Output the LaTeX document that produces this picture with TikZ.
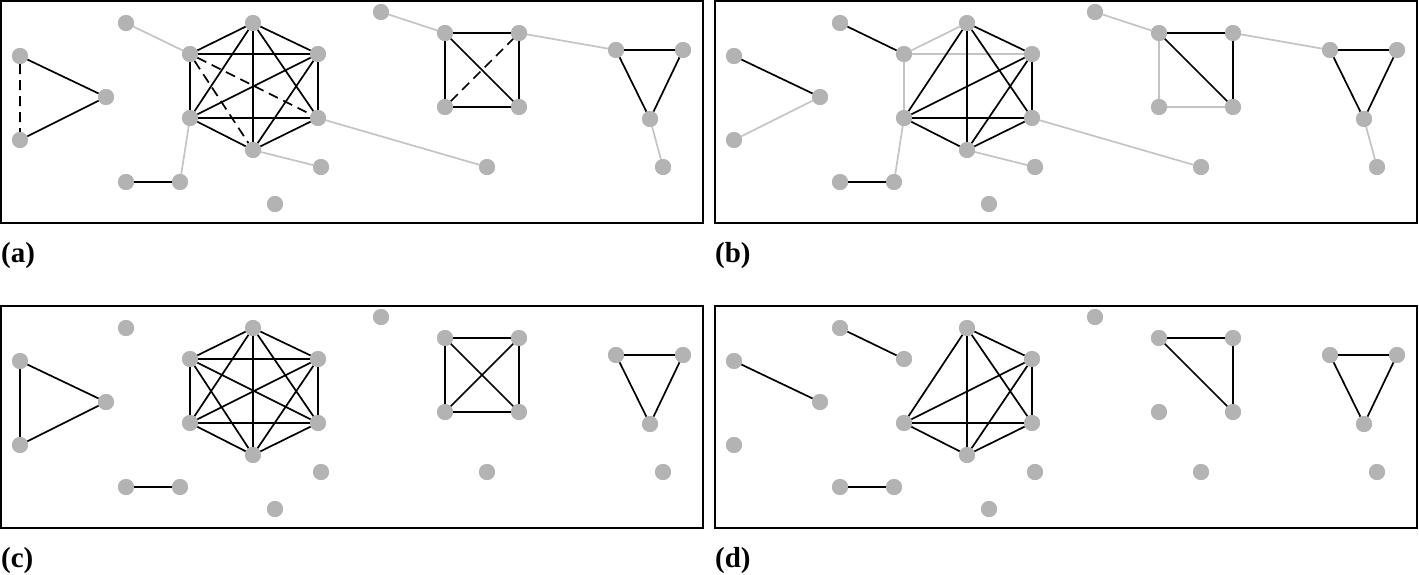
\documentclass[tikz,border=0pt]{standalone}
\usepackage{fontspec}
\setmainfont{Liberation Serif}
\definecolor{nd}{HTML}{B3B3B3}
\definecolor{ge}{HTML}{C4C4C4}
\tikzset{v/.style={circle,fill=nd,inner sep=0pt,minimum size=16pt},
 be/.style={black,line width=1.7pt},
 gr/.style={ge,line width=1.7pt},
 de/.style={black,line width=1.7pt,dash pattern=on 10pt off 6pt},
 frame/.style={draw=black,line width=1.4pt},
 lab/.style={anchor=base west,inner sep=0pt,font=\fontsize{29}{32}\selectfont\bfseries}}
\newcommand{\placenodes}[3]{%
 \begin{scope}[shift={(#2,#3)}]
 \draw[frame] (1,1) rectangle (703,223);
 \foreach \n/\x/\y in {A1/20/56,A2/20/140,A3/106/97,B/126/23,H1/190/54,H2/253/23,H3/318/54,H4/318/118,H5/253/150,H6/190/118,C1/126/182,C2/180/182,D/321/167,E/487/167,F/275/204,G/381/12,S1/445/33,S2/519/33,S3/519/107,S4/445/107,T1/616/50,T2/683/50,T3/650/119,U/663/167}
   \node[v] (#1\n) at (\x,\y) {};
 \end{scope}}
\begin{document}
\begin{tikzpicture}[x=1pt,y=-1pt]
\useasboundingbox (0,0) rectangle (1419,574);
\placenodes{a}{0}{0}
\placenodes{b}{714}{0}
\placenodes{c}{0}{305}
\placenodes{d}{714}{305}
\node[lab] (la) at (1,262) {(a)};
\node[lab] (lb) at (715,262) {(b)};
\node[lab] (lc) at (1,567) {(c)};
\node[lab] (ld) at (715,567) {(d)};
% (a)
\draw[gr] (aB)--(aH1) (aH6)--(aC2) (aH5)--(aD) (aH4)--(aE) (aG)--(aS1) (aS2)--(aT1) (aT3)--(aU);
\draw[be] (aA1)--(aA3) (aA2)--(aA3) (aC1)--(aC2);
\draw[de] (aA1)--(aA2) (aH1)--(aH4) (aH1)--(aH5) (aS4)--(aS2);
\draw[be] (aH1)--(aH2) (aH1)--(aH3) (aH1)--(aH6) (aH2)--(aH3) (aH2)--(aH4) (aH2)--(aH5) (aH2)--(aH6) (aH3)--(aH4) (aH3)--(aH5) (aH3)--(aH6) (aH4)--(aH5) (aH4)--(aH6) (aH5)--(aH6);
\draw[be] (aS1)--(aS2) (aS2)--(aS3) (aS3)--(aS4) (aS4)--(aS1) (aS1)--(aS3) (aT1)--(aT2) (aT2)--(aT3) (aT3)--(aT1);
% (b)
\draw[gr] (bH6)--(bC2) (bH5)--(bD) (bH4)--(bE) (bG)--(bS1) (bS2)--(bT1) (bT3)--(bU) (bA2)--(bA3) (bH1)--(bH2) (bH1)--(bH3) (bH1)--(bH6) (bS1)--(bS4) (bS4)--(bS3);
\draw[be] (bA1)--(bA3) (bB)--(bH1) (bC1)--(bC2);
\draw[be] (bH2)--(bH3) (bH2)--(bH4) (bH2)--(bH5) (bH2)--(bH6) (bH3)--(bH4) (bH3)--(bH5) (bH3)--(bH6) (bH4)--(bH5) (bH4)--(bH6) (bH5)--(bH6);
\draw[be] (bS1)--(bS2) (bS2)--(bS3) (bS1)--(bS3) (bT1)--(bT2) (bT2)--(bT3) (bT3)--(bT1);
% (c)
\draw[be] (cA1)--(cA2) (cA1)--(cA3) (cA2)--(cA3) (cC1)--(cC2);
\draw[be] (cH1)--(cH2) (cH1)--(cH3) (cH1)--(cH4) (cH1)--(cH5) (cH1)--(cH6) (cH2)--(cH3) (cH2)--(cH4) (cH2)--(cH5) (cH2)--(cH6) (cH3)--(cH4) (cH3)--(cH5) (cH3)--(cH6) (cH4)--(cH5) (cH4)--(cH6) (cH5)--(cH6);
\draw[be] (cS1)--(cS2) (cS2)--(cS3) (cS3)--(cS4) (cS4)--(cS1) (cS1)--(cS3) (cS2)--(cS4) (cT1)--(cT2) (cT2)--(cT3) (cT3)--(cT1);
% (d)
\draw[be] (dA1)--(dA3) (dB)--(dH1) (dC1)--(dC2);
\draw[be] (dH2)--(dH3) (dH2)--(dH4) (dH2)--(dH5) (dH2)--(dH6) (dH3)--(dH4) (dH3)--(dH5) (dH3)--(dH6) (dH4)--(dH5) (dH4)--(dH6) (dH5)--(dH6);
\draw[be] (dS1)--(dS2) (dS2)--(dS3) (dS1)--(dS3) (dT1)--(dT2) (dT2)--(dT3) (dT3)--(dT1);
% nodes on top
\foreach \p/\dx/\dy in {a/0/0,b/714/0,c/0/305,d/714/305}
 \foreach \n/\x/\y in {A1/20/56,A2/20/140,A3/106/97,B/126/23,H1/190/54,H2/253/23,H3/318/54,H4/318/118,H5/253/150,H6/190/118,C1/126/182,C2/180/182,D/321/167,E/487/167,F/275/204,G/381/12,S1/445/33,S2/519/33,S3/519/107,S4/445/107,T1/616/50,T2/683/50,T3/650/119,U/663/167}
  \fill[nd] (\x+\dx,\y+\dy) circle (8pt);
\end{tikzpicture}
\end{document}
